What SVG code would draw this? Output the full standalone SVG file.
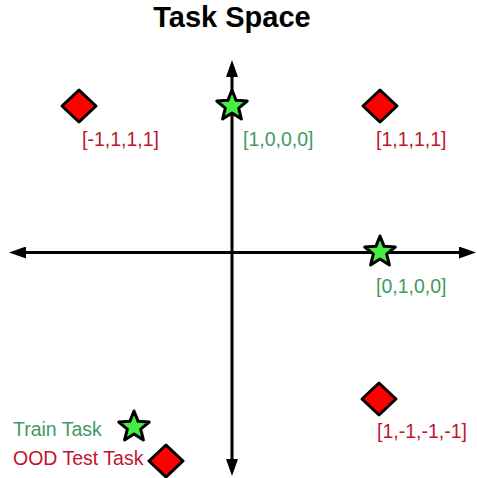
<svg xmlns="http://www.w3.org/2000/svg" width="477" height="478" viewBox="0 0 477 478">
<style>
.axis{stroke:#000;stroke-width:3;fill:none}
.star{fill:#44ee44;stroke:#000;stroke-width:3;stroke-linejoin:round}
.dia{fill:#ff0000;stroke:#000;stroke-width:3;stroke-linejoin:round}
.lbl{font-family:"Liberation Sans",Arial,sans-serif;font-size:19.5px}
.g{fill:#3f9a62}
.r{fill:#c3132f}
.title{font-family:"Liberation Sans",Arial,sans-serif;font-size:29px;font-weight:bold;fill:#000}
</style>
<defs>
<marker id="ah" viewBox="0 0 17 12" refX="2" refY="6" markerWidth="17" markerHeight="12" markerUnits="userSpaceOnUse" orient="auto-start-reverse">
<path d="M0,0 L17,6 L0,12 z" fill="#000"/>
</marker>
<path id="starShape" d="M0,-16 L4.11,-5.66 L15.22,-4.94 L6.66,2.16 L9.4,12.94 L0,7 L-9.4,12.94 L-6.66,2.16 L-15.22,-4.94 L-4.11,-5.66 Z"/>
<path id="diaShape" d="M0,-16 L17,0 L0,16 L-17,0 Z"/>
</defs>
<text class="title" x="232" y="27" text-anchor="middle">Task Space</text>
<g id="connectors">
<line class="axis" x1="24" y1="252.5" x2="461" y2="252.5" marker-start="url(#ah)" marker-end="url(#ah)"/>
<line class="axis" x1="232" y1="75" x2="232" y2="461" marker-start="url(#ah)" marker-end="url(#ah)"/>
</g>
<g id="task-m1111">
<use href="#diaShape" class="dia" x="79" y="106"/>
<text class="lbl r" x="82" y="146">[-1,1,1,1]</text>
</g>
<g id="task-1000">
<use href="#starShape" class="star" x="232" y="106"/>
<text class="lbl g" x="243" y="146">[1,0,0,0]</text>
</g>
<g id="task-1111">
<use href="#diaShape" class="dia" x="380" y="106"/>
<text class="lbl r" x="376" y="146">[1,1,1,1]</text>
</g>
<g id="task-0100">
<use href="#starShape" class="star" x="380" y="252"/>
<text class="lbl g" x="376" y="293">[0,1,0,0]</text>
</g>
<g id="task-1m1m1m1">
<use href="#diaShape" class="dia" x="379" y="399"/>
<text class="lbl r" x="377" y="438">[1,-1,-1,-1]</text>
</g>
<g id="legend-train">
<text class="lbl g" x="13" y="436">Train Task</text>
<use href="#starShape" class="star" x="134" y="427"/>
</g>
<g id="legend-ood">
<text class="lbl r" x="13" y="465">OOD Test Task</text>
<use href="#diaShape" class="dia" x="166" y="461"/>
</g>
</svg>
